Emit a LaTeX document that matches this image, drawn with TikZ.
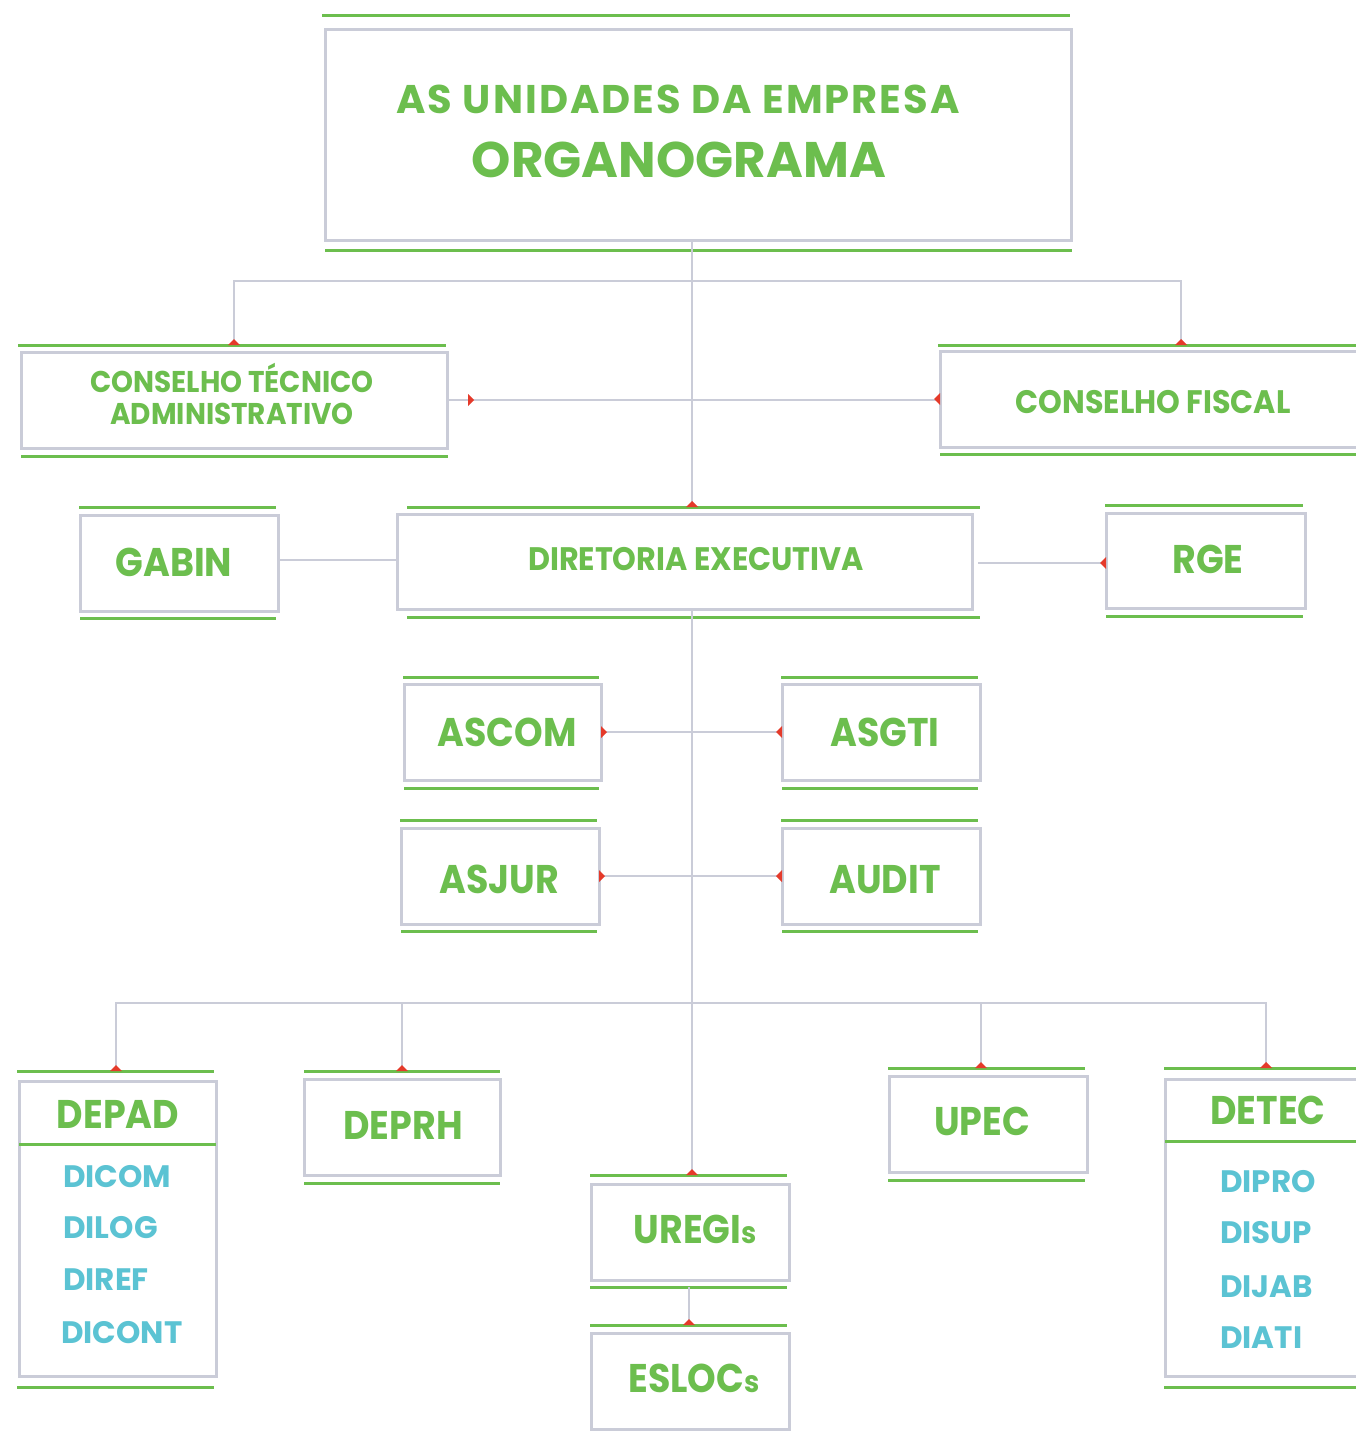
\documentclass[tikz,border=0pt]{standalone}
\usepackage{fontspec}
\setmainfont{Poppins}
\newfontfamily\narrowL{Poppins}[FakeStretch=0.91]
\newfontfamily\narrowM{Poppins}[FakeStretch=0.93]
\newfontfamily\spacedT{Poppins}[LetterSpace=5]
\usetikzlibrary{calc}
\definecolor{ogreen}{HTML}{6CBE4E}
\definecolor{ogray}{HTML}{CACCD8}
\definecolor{ocyan}{HTML}{5BC3D3}
\definecolor{ored}{HTML}{E53A2A}
\tikzset{
  ubox/.style={draw=ogray, line width=3pt, inner sep=0pt, outer sep=0pt, rectangle},
  gline/.style={draw=ogreen, line width=3pt},
  conn/.style={draw=ogray, line width=2.8pt},
  lblXL/.style={text=ogreen, inner sep=0pt, anchor=base, font=\fontsize{50}{50}\selectfont\bfseries},
  lblT/.style={text=ogreen, inner sep=0pt, anchor=base, font=\spacedT\fontsize{40}{40}\selectfont\bfseries},
  lblL/.style={text=ogreen, inner sep=0pt, anchor=base, font=\narrowL\fontsize{40}{40}\selectfont\bfseries},
  lblM/.style={text=ogreen, inner sep=0pt, anchor=base, font=\narrowM\fontsize{30}{30}\selectfont\bfseries},
  lblMb/.style={text=ogreen, inner sep=0pt, anchor=base, font=\narrowM\fontsize{32.5}{32.5}\selectfont\bfseries},
  lblC/.style={text=ocyan, inner sep=0pt, anchor=base west, font=\fontsize{31}{31}\selectfont\bfseries},
  tu/.pic={\fill[ored] (-6,0) -- (0,-6) -- (6,0) -- cycle;},
  tr/.pic={\fill[ored] (0,-6) -- (6,0) -- (0,6) -- cycle;},
  tl/.pic={\fill[ored] (0,-6) -- (-6,0) -- (0,6) -- cycle;},
}
\newcommand\boxat[5]{\node[ubox, minimum width={#4-#2}, minimum height={#5-#3}] (#1) at ({(#2+#4)/2},{(#3+#5)/2}) {};}
\newcommand\gl[3]{\draw[gline] (#1,#3) -- (#2,#3);}
\begin{document}
\begin{tikzpicture}[x=1pt,y=-1pt]
\useasboundingbox (0,0) rectangle (1356,1432);
\fill[white] (0,0) rectangle (1356,1432);

% boxes
\boxat{title}{325}{29}{1071}{240}
\boxat{cta}{21}{352}{447}{448}
\boxat{cf}{940}{351}{1362}{447}
\boxat{gabin}{80}{515}{278}{611}
\boxat{dir}{397}{514}{972}{609}
\boxat{rge}{1106}{513}{1305}{608}
\boxat{ascom}{404}{684}{601}{780}
\boxat{asgti}{782}{684}{980}{780}
\boxat{asjur}{401}{828}{599}{924}
\boxat{audit}{782}{828}{980}{924}
\boxat{depad}{19}{1081}{216}{1376}
\boxat{deprh}{304}{1079}{500}{1175}
\boxat{uregis}{591}{1184}{789}{1280}
\boxat{eslocs}{591}{1333}{789}{1429}
\boxat{upec}{889}{1076}{1087}{1172}
\boxat{detec}{1165}{1079}{1362}{1376}

% green rules
\gl{322}{1070}{15} \gl{325}{1072}{250}
\gl{18}{446}{345} \gl{21}{448}{456}
\gl{938}{1356}{345} \gl{940}{1356}{454}
\gl{79}{276}{507} \gl{80}{276}{618}
\gl{407}{980}{507} \gl{407}{980}{617}
\gl{1105}{1303}{505} \gl{1106}{1303}{616}
\gl{403}{599}{677} \gl{404}{599}{788}
\gl{781}{978}{677} \gl{782}{978}{788}
\gl{400}{597}{820} \gl{401}{597}{931}
\gl{781}{978}{820} \gl{782}{978}{931}
\gl{17}{214}{1071} \gl{17}{214}{1387} \gl{19}{216}{1144}
\gl{304}{500}{1071} \gl{304}{500}{1183}
\gl{590}{787}{1175} \gl{590}{787}{1287}
\gl{590}{787}{1325}
\gl{888}{1085}{1068} \gl{888}{1085}{1180}
\gl{1164}{1356}{1068} \gl{1165}{1356}{1141} \gl{1164}{1356}{1387}

% connector endpoints
\coordinate (ctaIn) at (234,345);
\coordinate (cfIn) at (1181,345);
\coordinate (hbar) at (692,281);
\coordinate (dirIn) at (692,507);
\coordinate (depadIn) at (116,1071);
\coordinate (deprhIn) at (402,1071);
\coordinate (upecIn) at (981,1068);
\coordinate (detecIn) at (1266,1068);
\coordinate (bbar) at (692,1003);
\coordinate (uregIn) at (692,1175);
\coordinate (uregOut) at (689,1287);
\coordinate (eslocIn) at (689,1325);
\coordinate (rgeL) at (978,563);

% connectors
\draw[conn] (title.south -| dirIn) -- (dirIn);
\draw[conn] (ctaIn) -- (ctaIn |- hbar) -- (cfIn |- hbar) -- (cfIn);
\draw[conn] (cta.east) -- (cta.east -| cf.west);
\draw[conn] (gabin.east |- 0,560) -- (dir.west |- 0,560);
\draw[conn] (rgeL) -- (rgeL -| rge.west);
\draw[conn] (dir.south -| uregIn) -- (uregIn);
\draw[conn] (ascom.east) -- (asgti.west);
\draw[conn] (asjur.east) -- (audit.west);
\draw[conn] (depadIn) -- (depadIn |- bbar) -- (detecIn |- bbar) -- (detecIn);
\draw[conn] (deprhIn |- bbar) -- (deprhIn);
\draw[conn] (upecIn |- bbar) -- (upecIn);
\draw[conn] (uregOut) -- (eslocIn);

% arrowheads
\pic at (ctaIn) {tu};
\pic at (cfIn) {tu};
\pic at (dirIn) {tu};
\pic at (depadIn) {tu};
\pic at (deprhIn) {tu};
\pic at (upecIn) {tu};
\pic at (detecIn) {tu};
\pic at (uregIn) {tu};
\pic at (eslocIn) {tu};
\pic at (468,400) {tr};
\pic at (cf.west) {tl};
\pic at (rgeL -| rge.west) {tl};
\pic at (ascom.east) {tr};
\pic at (asgti.west) {tl};
\pic at (asjur.east) {tr};
\pic at (audit.west) {tl};

% labels
\node[lblT] (t1) at (678,113) {AS UNIDADES DA EMPRESA};
\node[lblXL] (t2) at (679,177) {ORGANOGRAMA};
\node[lblM] (tcta1) at (232,392) {CONSELHO TÉCNICO};
\node[lblM] (tcta2) at (232,424) {ADMINISTRATIVO};
\node[lblMb] (tcf) at (1153,413) {CONSELHO FISCAL};
\node[lblMb] (tdir) at (696,570) {DIRETORIA EXECUTIVA};
\node[lblL] (tgabin) at (174,576) {GABIN};
\node[lblL] (trge) at (1208,573) {RGE};
\node[lblL] (tascom) at (507,746) {ASCOM};
\node[lblL] (tasgti) at (885,746) {ASGTI};
\node[lblL] (tasjur) at (499,893) {ASJUR};
\node[lblL] (taudit) at (885,893) {AUDIT};
\node[lblL] (tdepad) at (118,1128) {DEPAD};
\node[lblL] (tdeprh) at (403,1139) {DEPRH};
\node[lblL] (tupec) at (982,1135) {UPEC};
\node[lblL] (tdetec) at (1268,1124) {DETEC};
\node[lblL] (tureg) at (695,1243) {UREGI{\fontsize{30}{30}\selectfont s}};
\node[lblL] (tesloc) at (694,1392) {ESLOC{\fontsize{30}{30}\selectfont s}};
\node[lblC] (c1) at (63,1187) {DICOM};
\node[lblC] (c2) at (63,1238) {DILOG};
\node[lblC] (c3) at (63,1290) {DIREF};
\node[lblC] (c4) at (61,1343) {DICONT};
\node[lblC] (c5) at (1220,1192) {DIPRO};
\node[lblC] (c6) at (1220,1243) {DISUP};
\node[lblC] (c7) at (1220,1297) {DIJAB};
\node[lblC] (c8) at (1220,1348) {DIATI};
\end{tikzpicture}
\end{document}
